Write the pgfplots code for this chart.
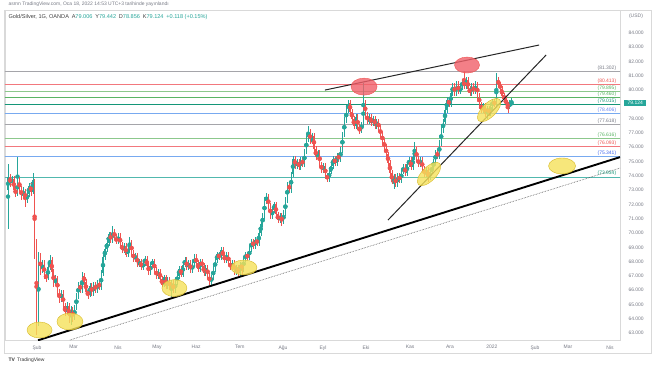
\documentclass[border=0pt]{standalone}
\usepackage{fontspec}
\setmainfont{Liberation Sans}
\usepackage{pgfplots}
\usepackage{pgfplotstable}
\pgfplotsset{compat=1.18}
\definecolor{tvgreen}{RGB}{38,166,154}
\definecolor{tvred}{RGB}{239,83,80}
\definecolor{tvtext}{RGB}{120,123,134}
\definecolor{fgray}{RGB}{165,165,170}
\definecolor{fred}{RGB}{242,120,125}
\definecolor{flgreen}{RGB}{140,200,140}
\definecolor{fgreen}{RGB}{90,180,100}
\definecolor{fteal}{RGB}{20,150,120}
\definecolor{flblue}{RGB}{120,170,240}
\definecolor{fblue}{RGB}{60,100,240}
\definecolor{ellyellow}{RGB}{246,226,90}
\definecolor{ellyellowd}{RGB}{215,185,40}
\definecolor{ellred}{RGB}{240,95,105}
\newcommand{\tvf}{\fontsize{5}{6}\selectfont}
\newcommand{\tvt}{\fontsize{5.6}{6.5}\selectfont}

\pgfplotstableread{
i o h l c
0 73.0 74.8 70.3 73.9
1 73.9 74.1 73.2 73.5
2 73.5 74.0 73.3 73.8
3 73.8 74.0 72.8 73.0
4 73.0 73.3 72.5 72.8
5 72.8 75.3 72.6 73.6
6 73.6 73.9 72.9 73.1
7 73.1 73.3 72.3 72.6
8 72.6 73.2 72.4 72.9
9 72.9 73.1 71.8 72.4
10 72.4 72.9 72.1 72.7
11 72.7 73.5 72.5 73.3
12 73.3 73.5 72.6 72.9
13 72.9 74.2 72.7 73.7
14 73.5 73.8 68.2 68.8
15 69.3 69.6 62.9 63.7
16 63.8 68.7 63.5 68.3
17 68.3 68.6 67.1 67.4
18 67.4 68.1 67.2 67.9
19 67.9 68.1 66.8 67.0
20 67.0 67.3 66.6 66.9
21 66.9 67.8 66.7 67.6
22 67.6 68.5 67.4 68.1
23 68.1 68.3 67.0 67.3
24 67.3 67.5 66.2 66.5
25 66.5 67.1 66.3 66.8
26 66.8 67.0 65.7 65.9
27 65.9 66.1 65.1 65.4
28 65.4 66.0 65.2 65.8
29 65.8 66.0 64.7 64.9
30 64.9 65.1 64.2 64.5
31 64.5 65.2 64.3 64.9
32 64.9 65.1 63.7 64.2
33 64.2 64.9 63.6 64.6
34 64.6 64.8 63.8 64.1
35 64.1 65.0 63.9 64.8
36 64.8 65.8 64.6 65.6
37 65.6 66.6 65.4 66.4
38 66.4 66.6 65.8 66.0
39 66.0 67.3 65.8 67.0
40 67.0 67.2 66.4 66.6
41 66.6 66.8 65.7 65.9
42 65.9 66.1 65.4 65.7
43 65.7 66.5 65.5 66.3
44 66.3 66.5 65.6 65.8
45 65.8 66.6 65.6 66.4
46 66.4 66.6 65.8 66.0
47 66.0 66.7 65.8 66.5
48 66.5 66.7 66.0 66.2
49 66.2 67.4 66.0 67.2
50 67.2 68.5 67.0 68.3
51 68.3 69.1 68.1 68.9
52 68.9 69.5 68.7 69.3
53 69.3 70.1 69.1 69.9
54 69.9 70.1 69.3 69.5
55 69.5 70.5 69.3 70.1
56 70.1 70.3 69.5 69.7
57 69.7 69.9 69.2 69.4
58 69.4 70.0 69.2 69.8
59 69.8 70.0 69.0 69.2
60 69.2 69.4 68.6 68.8
61 68.8 69.3 68.6 69.1
62 69.1 69.3 68.3 68.5
63 68.5 69.1 68.3 68.9
64 68.9 69.7 68.7 69.3
65 69.3 69.5 68.4 68.6
66 68.6 68.8 68.0 68.2
67 68.2 68.6 68.0 68.4
68 68.4 68.6 67.6 67.8
69 67.8 68.2 67.6 68.0
70 68.0 68.2 67.4 67.6
71 67.6 68.1 67.4 67.9
72 67.9 68.4 67.7 68.2
73 68.2 68.4 67.5 67.7
74 67.7 67.9 67.1 67.3
75 67.3 68.0 67.1 67.8
76 67.8 68.2 67.6 68.0
77 68.0 68.2 67.2 67.4
78 67.4 67.6 66.8 67.0
79 67.0 67.5 66.8 67.3
80 67.3 67.5 66.6 66.8
81 66.8 67.0 66.2 66.4
82 66.4 67.1 66.2 66.9
83 66.9 67.1 66.1 66.3
84 66.3 66.9 66.1 66.7
85 66.7 66.9 66.0 66.2
86 66.2 66.7 65.5 66.5
87 66.5 66.7 65.8 66.0
88 66.0 66.8 65.8 66.6
89 66.6 67.2 66.4 67.0
90 67.0 67.7 66.8 67.5
91 67.5 67.7 66.9 67.1
92 67.1 68.0 66.9 67.8
93 67.8 68.3 67.6 68.1
94 68.1 68.3 67.4 67.6
95 67.6 68.1 67.4 67.9
96 67.9 68.1 67.2 67.4
97 67.4 68.0 67.2 67.8
98 67.8 68.5 67.6 68.3
99 68.3 68.5 67.7 67.9
100 67.9 68.1 67.3 67.5
101 67.5 68.2 67.3 68.0
102 68.0 68.2 67.5 67.7
103 67.7 67.9 67.0 67.2
104 67.2 67.8 67.0 67.6
105 67.6 67.8 66.8 67.0
106 67.0 67.2 66.4 66.6
107 66.6 67.1 66.4 66.9
108 66.9 67.7 66.7 67.5
109 67.5 68.3 67.3 68.1
110 68.1 68.7 67.9 68.5
111 68.5 68.7 68.1 68.3
112 68.3 69.0 68.1 68.8
113 68.8 69.0 68.2 68.4
114 68.4 68.6 67.9 68.1
115 68.1 68.7 67.9 68.5
116 68.5 68.7 67.7 67.9
117 67.9 68.1 67.4 67.6
118 67.6 68.1 67.4 67.9
119 67.9 68.1 67.1 67.3
120 67.3 67.8 67.1 67.6
121 67.6 67.8 67.0 67.2
122 67.2 68.0 67.0 67.8
123 67.8 68.0 67.0 67.5
124 67.5 68.4 67.3 68.2
125 68.2 68.7 68.0 68.5
126 68.5 68.7 68.1 68.3
127 68.3 69.1 68.1 68.9
128 68.9 69.6 68.7 69.4
129 69.4 69.6 68.9 69.1
130 69.1 69.7 68.9 69.5
131 69.5 69.7 69.1 69.3
132 69.3 70.2 69.1 70.0
133 70.0 70.8 69.8 70.6
134 70.6 71.4 70.4 71.2
135 71.2 72.5 71.0 72.3
136 72.3 72.8 72.0 72.5
137 72.5 72.7 71.7 71.9
138 71.9 72.1 71.0 71.2
139 71.2 71.8 71.0 71.6
140 71.6 72.2 71.4 72.0
141 72.0 72.2 71.1 71.3
142 71.3 71.5 70.7 70.9
143 70.9 71.4 70.7 71.2
144 71.2 71.4 70.5 70.8
145 70.8 71.6 70.6 71.4
146 71.4 72.5 71.2 72.3
147 72.3 73.6 72.1 73.4
148 73.4 73.6 72.8 73.0
149 73.0 74.3 72.8 74.1
150 74.1 75.4 73.9 75.2
151 75.2 75.4 74.5 74.7
152 74.7 75.2 74.5 75.0
153 75.0 75.2 74.4 74.6
154 74.6 75.3 74.4 75.1
155 75.1 75.3 74.6 74.8
156 74.8 75.9 74.6 75.7
157 75.7 76.8 75.5 76.6
158 76.6 77.5 76.4 77.1
159 77.1 77.3 76.2 76.4
160 76.4 77.0 76.2 76.8
161 76.8 77.0 75.7 75.9
162 75.9 76.1 75.1 75.3
163 75.3 75.8 75.1 75.6
164 75.6 75.8 74.6 74.8
165 74.8 75.0 74.2 74.4
166 74.4 74.9 74.2 74.7
167 74.7 74.9 73.8 74.0
168 74.0 74.2 73.6 73.8
169 73.8 74.5 73.6 74.3
170 74.3 74.9 74.1 74.7
171 74.7 75.4 74.5 75.2
172 75.2 75.4 74.7 74.9
173 74.9 75.6 74.7 75.4
174 75.4 75.6 75.0 75.2
175 75.2 76.0 75.0 75.8
176 75.8 77.1 75.6 76.9
177 76.9 78.1 76.7 77.9
178 77.9 78.8 77.7 78.6
179 78.6 79.3 78.4 79.1
180 79.1 79.3 78.3 78.5
181 78.5 78.7 77.8 78.0
182 78.0 78.2 77.3 77.5
183 77.5 78.3 77.3 78.1
184 78.1 78.3 77.2 77.4
185 77.4 77.6 76.9 77.2
186 77.2 77.8 77.0 77.6
187 77.6 80.5 77.4 79.1
188 79.1 79.3 78.1 78.3
189 78.3 78.5 77.6 77.8
190 77.8 78.3 77.6 78.1
191 78.1 78.3 77.5 77.7
192 77.7 78.2 77.5 78.0
193 78.0 78.2 77.3 77.5
194 77.5 78.0 77.3 77.8
195 77.8 78.0 77.1 77.3
196 77.3 77.5 76.7 76.9
197 76.9 77.1 76.2 76.4
198 76.4 76.6 75.8 76.0
199 76.0 76.2 75.3 75.5
200 75.5 75.7 74.7 74.9
201 74.9 75.1 74.0 74.2
202 74.2 74.4 73.4 73.6
203 73.6 74.1 73.1 73.9
204 73.9 74.1 73.2 73.4
205 73.4 74.2 73.2 74.0
206 74.0 74.2 73.5 73.7
207 73.7 74.5 73.5 74.3
208 74.3 74.8 74.1 74.6
209 74.6 74.8 74.0 74.2
210 74.2 75.0 74.0 74.8
211 74.8 75.3 74.6 75.1
212 75.1 75.3 74.4 74.6
213 74.6 75.5 74.4 75.3
214 75.3 76.4 75.1 75.8
215 75.8 76.0 75.0 75.2
216 75.2 75.4 74.6 74.8
217 74.8 75.3 74.6 75.1
218 75.1 75.3 74.3 74.5
219 74.5 74.7 73.9 74.1
220 74.1 74.6 73.9 74.4
221 74.4 74.6 73.6 73.9
222 73.9 74.5 73.7 74.3
223 74.3 74.8 74.1 74.6
224 74.6 75.2 74.4 75.0
225 75.0 75.8 74.8 75.6
226 75.6 75.8 75.2 75.4
227 75.4 76.5 75.2 76.3
228 76.3 77.4 76.1 77.2
229 77.2 78.0 77.0 77.8
230 77.8 78.8 77.6 78.6
231 78.6 79.5 78.4 79.3
232 79.3 79.5 78.8 79.0
233 79.0 80.0 78.8 79.8
234 79.8 80.5 79.6 80.3
235 80.3 80.5 79.6 79.8
236 79.8 80.6 79.6 80.4
237 80.4 80.6 79.7 79.9
238 79.9 80.4 79.7 80.2
239 80.2 80.8 80.0 80.6
240 80.6 81.3 80.1 80.3
241 80.3 80.9 80.1 80.7
242 80.7 80.9 79.9 80.1
243 80.1 80.3 79.6 79.8
244 79.8 80.5 79.6 80.3
245 80.3 80.5 79.7 79.9
246 79.9 80.6 79.7 80.4
247 80.4 80.6 79.4 79.6
248 79.6 79.8 78.8 79.0
249 79.0 79.2 78.4 78.6
250 78.6 79.1 78.4 78.9
251 78.9 79.1 78.1 78.3
252 78.3 78.9 78.0 78.7
253 78.7 78.9 78.2 78.4
254 78.4 79.1 78.2 78.9
255 78.9 79.4 78.7 79.2
256 79.2 79.4 78.8 79.0
257 79.0 81.2 78.8 80.7
258 80.7 80.9 80.2 80.4
259 80.4 80.6 79.9 80.1
260 80.1 80.3 79.4 79.6
261 79.6 79.8 79.2 79.4
262 79.4 79.6 78.8 79.0
263 79.0 79.2 78.4 78.9
264 78.9 79.3 78.7 79.006
265 79.006 79.442 78.856 79.124
}\candles

\begin{document}
\begin{tikzpicture}
\path[use as bounding box] (0,0) rectangle (654bp,366bp);
\fill[white] (0,0) rectangle (654bp,366bp);
\draw[gray!30, line width=0.4bp] (4bp,13bp) rectangle (651bp,356bp);
\begin{axis}[
  at={(5bp,26bp)}, anchor=south west, scale only axis,
  width=615bp, height=330bp,
  xmin=-1.58, xmax=322.1, ymin=62.52, ymax=85.6,
  clip mode=individual,
  axis line style={draw=gray!30, line width=0.4bp},
  major tick length=0pt,
  tick label style={font=\tvf, text=tvtext},
  ytick={63,64,65,66,67,68,69,70,71,72,73,74,75,76,77,78,80,81,82,83,84},
  yticklabels={63.000,64.000,65.000,66.000,67.000,68.000,69.000,70.000,71.000,72.000,73.000,74.000,75.000,76.000,77.000,78.000,80.000,81.000,82.000,83.000,84.000},
  yticklabel pos=right,
  yticklabel style={xshift=5bp},
  xtick={15.3,34.5,57.9,78.4,99,122,144.7,165.8,188.4,211.6,232.6,254.7,277.4,294.7,316.8},
  xticklabels={Şub,Mar,Nis,May,Haz,Tem,Ağu,Eyl,Eki,Kas,Ara,2022,Şub,Mar,Nis},
  xticklabel style={yshift=-2bp},
]
% Fibonacci levels
\addplot[fgray, line width=0.6bp, forget plot] coordinates {(-2,81.302) (323,81.302)};
\addplot[fred, line width=0.6bp, forget plot] coordinates {(-2,80.413) (323,80.413)};
\addplot[flgreen, line width=0.6bp, forget plot] coordinates {(-2,79.895) (323,79.895)};
\addplot[fgreen, line width=0.6bp, forget plot] coordinates {(-2,79.460) (323,79.460)};
\addplot[fteal, line width=0.6bp, forget plot] coordinates {(-2,79.015) (323,79.015)};
\addplot[flblue, line width=0.6bp, forget plot] coordinates {(-2,78.406) (323,78.406)};
\addplot[fgray, line width=0.6bp, forget plot] coordinates {(-2,77.618) (323,77.618)};
\addplot[flgreen, line width=0.6bp, forget plot] coordinates {(-2,76.616) (323,76.616)};
\addplot[fred, line width=0.6bp, forget plot] coordinates {(-2,76.093) (323,76.093)};
\addplot[flblue, line width=0.6bp, forget plot] coordinates {(-2,75.341) (323,75.341)};
\addplot[tvgreen!80, line width=0.6bp, forget plot] coordinates {(-2,73.934) (323,73.934)};
% Candles: wicks
\addplot[tvgreen, only marks, mark=none, forget plot,
  x filter/.expression={\thisrow{c}>=\thisrow{o} ? x : nan},
  error bars/.cd, y dir=both, y explicit, error mark=none,
  error bar style={draw=tvgreen, solid, line width=0.4bp}]
  table[x=i, y expr={(\thisrow{h}+\thisrow{l})/2}, y error expr={(\thisrow{h}-\thisrow{l})/2}] {\candles};
\addplot[tvred, only marks, mark=none, forget plot,
  x filter/.expression={\thisrow{c}<\thisrow{o} ? x : nan},
  error bars/.cd, y dir=both, y explicit, error mark=none,
  error bar style={draw=tvred, solid, line width=0.4bp}]
  table[x=i, y expr={(\thisrow{h}+\thisrow{l})/2}, y error expr={(\thisrow{h}-\thisrow{l})/2}] {\candles};
% Candles: bodies
\addplot[tvgreen, only marks, mark=none, forget plot,
  x filter/.expression={\thisrow{c}>=\thisrow{o} ? x : nan},
  error bars/.cd, y dir=both, y explicit, error mark=none,
  error bar style={draw=tvgreen, solid, line width=1.1bp}]
  table[x=i, y expr={(\thisrow{o}+\thisrow{c})/2}, y error expr={abs(\thisrow{c}-\thisrow{o})/2}] {\candles};
\addplot[tvred, only marks, mark=none, forget plot,
  x filter/.expression={\thisrow{c}<\thisrow{o} ? x : nan},
  error bars/.cd, y dir=both, y explicit, error mark=none,
  error bar style={draw=tvred, solid, line width=1.1bp}]
  table[x=i, y expr={(\thisrow{o}+\thisrow{c})/2}, y error expr={abs(\thisrow{c}-\thisrow{o})/2}] {\candles};
% Trend lines
\addplot[black!85, line width=1.0bp, forget plot] coordinates {(166.8,80.0) (279.5,83.15)};
\addplot[black!85, line width=1.0bp, forget plot] coordinates {(200,70.91) (283.2,82.45)};
\addplot[black, line width=1.9bp, forget plot] coordinates {(15.8,62.5) (322.1,75.31)};
\addplot[black!70, line width=0.6bp, densely dotted, forget plot] coordinates {(32.6,62.52) (322.1,74.55)};
% Ellipses
\begin{scope}[fill opacity=0.8]
\filldraw[fill=ellyellow, draw=ellyellowd, line width=0.4bp] (axis cs:16.6,63.22) ellipse [x radius=12.5bp, y radius=8bp];
\filldraw[fill=ellyellow, draw=ellyellowd, line width=0.4bp] (axis cs:32.6,63.81) ellipse [x radius=13bp, y radius=8.5bp];
\filldraw[fill=ellyellow, draw=ellyellowd, line width=0.4bp] (axis cs:87.6,66.15) ellipse [x radius=12.5bp, y radius=8.5bp];
\filldraw[fill=ellyellow, draw=ellyellowd, line width=0.4bp] (axis cs:124.2,67.59) ellipse [x radius=13bp, y radius=7.5bp];
\filldraw[fill=ellyellow, draw=ellyellowd, line width=0.4bp, rotate around={45:(axis cs:221.6,74.13)}] (axis cs:221.6,74.13) ellipse [x radius=15bp, y radius=7bp];
\filldraw[fill=ellyellow, draw=ellyellowd, line width=0.4bp, rotate around={45:(axis cs:253.2,78.6)}] (axis cs:253.2,78.6) ellipse [x radius=15bp, y radius=7bp];
\filldraw[fill=ellyellow, draw=ellyellowd, line width=0.4bp] (axis cs:291.6,74.69) ellipse [x radius=13.5bp, y radius=8bp];
\filldraw[fill=ellred, draw=tvred, line width=0.4bp] (axis cs:187.4,80.24) ellipse [x radius=13bp, y radius=8.5bp];
\filldraw[fill=ellred, draw=tvred, line width=0.4bp] (axis cs:241.6,81.75) ellipse [x radius=12.5bp, y radius=8bp];
\end{scope}
% Fib labels
\begin{scope}[every node/.style={anchor=south east, font=\tvf, inner sep=0.6bp}]
\node[text=tvtext] at (axis cs:320.5,81.302) {(81.302)};
\node[text=tvred] at (axis cs:320.5,80.413) {(80.413)};
\node[text=fgreen] at (axis cs:320.5,79.895) {(79.895)};
\node[text=fgreen] at (axis cs:320.5,79.460) {(79.460)};
\node[text=fteal] at (axis cs:320.5,79.015) {(79.015)};
\node[text=fblue!80] at (axis cs:320.5,78.406) {(78.406)};
\node[text=tvtext] at (axis cs:320.5,77.618) {(77.618)};
\node[text=fgreen] at (axis cs:320.5,76.616) {(76.616)};
\node[text=tvred] at (axis cs:320.5,76.093) {(76.093)};
\node[text=fblue] at (axis cs:320.5,75.341) {(75.341)};
\node[text=fteal] at (axis cs:320.5,73.934) {(73.934)};
\end{scope}
\node[anchor=west, fill=tvgreen, text=white, font=\tvf, inner sep=1.3bp, minimum width=22bp, xshift=4bp] at (axis cs:322.1,79.124) {79.124};
\end{axis}
\node[anchor=west, font=\tvf, text=tvtext] at (5bp,362bp) {asrnn TradingView.com, Oca 18, 2022 14:53 UTC+3 tarihinde yayınlandı};
\node[anchor=west, font=\tvt, text=black!75] at (5bp,349bp) {Gold/Silver, 1G, OANDA\enspace A\textcolor{tvgreen}{79.006}\enspace Y\textcolor{tvgreen}{79.442}\enspace D\textcolor{tvgreen}{78.856}\enspace K\textcolor{tvgreen}{79.124}\enspace \textcolor{tvgreen}{+0.118 (+0.15\%)}};
\node[font=\tvf, text=tvtext] at (636bp,350bp) {(USD)};
\node[anchor=west, font=\tvf, text=black!80] at (5bp,6bp) {\textbf{TV}\, TradingView};
\end{tikzpicture}
\end{document}
